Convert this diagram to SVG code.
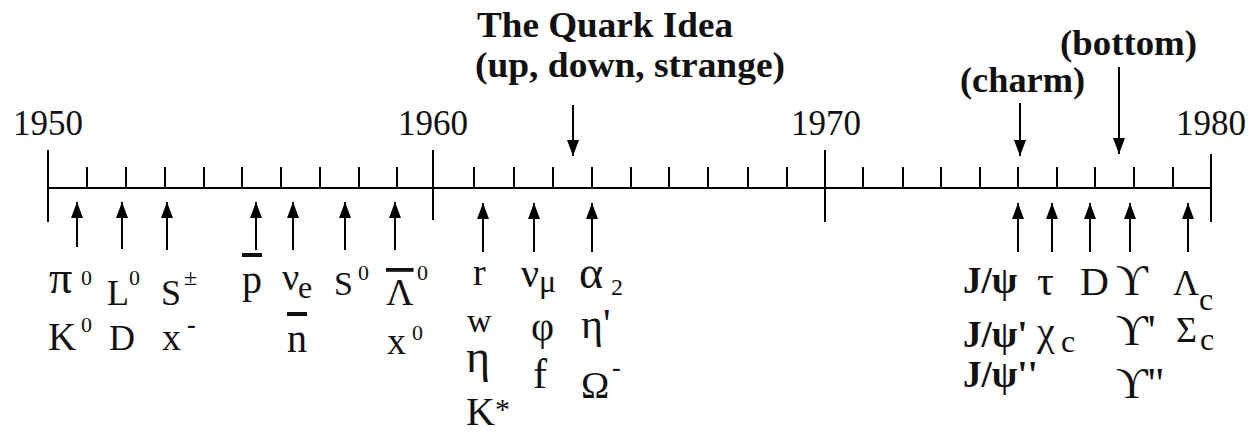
<svg xmlns="http://www.w3.org/2000/svg" width="1253" height="432" viewBox="0 0 1253 432">
<style>
.ax{stroke:#000;stroke-width:2;fill:none}
.ar{stroke:#000;stroke-width:2;fill:none;marker-end:url(#ah)}
text{font-family:'Liberation Serif','Times New Roman',Tinos,'DejaVu Serif','Noto Serif',serif;fill:#111}
.yr{font-size:35px}
.tt{font-size:35px;font-weight:bold}
.b{font-size:37px;font-weight:bold}
.ov{text-decoration:overline}
</style>
<defs>
<marker id="ah" markerUnits="userSpaceOnUse" viewBox="0 -6 16 12" markerWidth="16" markerHeight="12" refX="16" refY="0" orient="auto">
<path d="M0,-6 L16,0 L0,6 Z" fill="#000"/>
</marker>
</defs>
<g id="axis">
<line class="ax" x1="48" y1="188" x2="1211" y2="188"/>
<line class="ax" x1="48" y1="150" x2="48" y2="222"/>
<line class="ax" x1="433" y1="150" x2="433" y2="220"/>
<line class="ax" x1="825" y1="150" x2="825" y2="222"/>
<line class="ax" x1="1211" y1="154" x2="1211" y2="222"/>
<path class="ax" d="M87,167V188M126,167V188M165,167V188M204,167V188M242,167V188M281,167V188M320,167V188M359,167V188M397,167V188M474,167V188M514,167V188M553,167V188M592,167V188M631,167V188M669,167V188M708,167V188M748,167V188M787,167V188M863,167V188M903,167V188M941,167V188M980,167V188M1018,167V188M1057,167V188M1095,167V188M1134,167V188M1173,167V188"/>
<text class="yr" x="13" y="135">1950</text>
<text class="yr" x="398" y="135">1960</text>
<text class="yr" x="791" y="135">1970</text>
<text class="yr" x="1176" y="135">1980</text>
</g>
<g id="connectors">
<line class="ar" x1="573" y1="105" x2="573" y2="156"/>
<line class="ar" x1="1020" y1="103" x2="1020" y2="156"/>
<line class="ar" x1="1119" y1="67" x2="1119" y2="154"/>
<line class="ar" x1="77" y1="247" x2="77" y2="202"/>
<line class="ar" x1="122" y1="249" x2="122" y2="202"/>
<line class="ar" x1="167" y1="250" x2="167" y2="202"/>
<line class="ar" x1="256" y1="250" x2="256" y2="202"/>
<line class="ar" x1="293" y1="250" x2="293" y2="202"/>
<line class="ar" x1="345" y1="250" x2="345" y2="202"/>
<line class="ar" x1="395" y1="250" x2="395" y2="202"/>
<line class="ar" x1="483" y1="252" x2="483" y2="203"/>
<line class="ar" x1="534" y1="252" x2="534" y2="203"/>
<line class="ar" x1="592" y1="252" x2="592" y2="203"/>
<line class="ar" x1="1018" y1="252" x2="1018" y2="203"/>
<line class="ar" x1="1052" y1="252" x2="1052" y2="203"/>
<line class="ar" x1="1090" y1="252" x2="1090" y2="203"/>
<line class="ar" x1="1130" y1="252" x2="1130" y2="203"/>
<line class="ar" x1="1188" y1="252" x2="1188" y2="203"/>
</g>
<g id="quark">
<text class="tt" x="477" y="37" textLength="256" lengthAdjust="spacingAndGlyphs">The Quark Idea</text>
<text class="tt" x="475" y="77" textLength="310" lengthAdjust="spacingAndGlyphs">(up, down, strange)</text>
</g>
<g id="charm"><text class="tt" x="960" y="92" textLength="125" lengthAdjust="spacingAndGlyphs">(charm)</text></g>
<g id="bottom"><text class="tt" x="1060" y="55" textLength="137" lengthAdjust="spacingAndGlyphs">(bottom)</text></g>
<g id="p1951">
<text x="49" y="293" style="font-size:46px">π</text><text x="81" y="285" style="font-size:22px">0</text>
<text x="48" y="350" style="font-size:39px">K</text><text x="81" y="332" style="font-size:22px">0</text>
</g>
<g id="p1952">
<text x="107" y="305" style="font-size:36px">L</text><text x="129" y="285" style="font-size:22px">0</text>
<text x="109" y="350" style="font-size:36px">D</text>
</g>
<g id="p1953">
<text x="161" y="305" style="font-size:36px">S</text><text x="184" y="285" style="font-size:24px">±</text>
<text x="162" y="350" style="font-size:38px">x</text><text x="187" y="333" style="font-size:26px;font-weight:bold">-</text>
</g>
<g id="p1956"><text class="ov" x="242" y="293" style="font-size:40px">p</text></g>
<g id="p1957">
<text x="282" y="290" style="font-size:38px">ν</text><text x="298" y="298" style="font-size:32px">e</text>
<text class="ov" x="287" y="352" style="font-size:40px">n</text>
</g>
<g id="p1958">
<text x="334" y="295" style="font-size:34px">S</text><text x="358" y="280" style="font-size:22px">0</text>
</g>
<g id="p1959">
<text class="ov" x="386" y="305" style="font-size:38px">Λ</text><text x="417" y="280" style="font-size:22px">0</text>
<text x="387" y="354" style="font-size:38px">x</text><text x="412" y="340" style="font-size:22px">0</text>
</g>
<g id="p1961">
<text x="473" y="285" style="font-size:38px">r</text>
<text x="467" y="332" style="font-size:34px">w</text>
<text x="466" y="372" style="font-size:46px">η</text>
<text x="466" y="425" style="font-size:40px">K</text><text x="495" y="419" style="font-size:30px">*</text>
</g>
<g id="p1962">
<text x="521" y="287" style="font-size:40px">ν</text><text x="539" y="292" style="font-size:32px">μ</text>
<text x="531" y="340" style="font-size:40px">φ</text>
<text x="533" y="388" style="font-size:42px">f</text>
</g>
<g id="p1963">
<text x="579" y="288" style="font-size:46px">α</text><text x="611" y="295" style="font-size:24px">2</text>
<text x="581" y="338" style="font-size:42px">η'</text>
<text x="581" y="398" style="font-size:38px">Ω</text><text x="612" y="376" style="font-size:26px;font-weight:bold">-</text>
</g>
<g id="p1974">
<text class="b" x="963" y="293">J/ψ</text>
<text class="b" x="963" y="347">J/ψ'</text>
<text class="b" x="963" y="387">J/ψ''</text>
</g>
<g id="p1975">
<text x="1037" y="295" style="font-size:42px">τ</text>
<text x="1037" y="345" style="font-size:40px">χ</text><text x="1061" y="352" style="font-size:32px">c</text>
</g>
<g id="p1976"><text x="1080" y="295" style="font-size:40px">D</text></g>
<g id="p1977">
<text x="1116" y="295" style="font-size:44px">ϒ</text>
<text x="1116" y="345" style="font-size:44px">ϒ'</text>
<text x="1116" y="398" style="font-size:44px">ϒ''</text>
</g>
<g id="p1979">
<text x="1173" y="295" style="font-size:36px">Λ</text><text x="1199" y="310" style="font-size:32px">c</text>
<text x="1176" y="342" style="font-size:36px">Σ</text><text x="1200" y="350" style="font-size:32px">c</text>
</g>
</svg>
